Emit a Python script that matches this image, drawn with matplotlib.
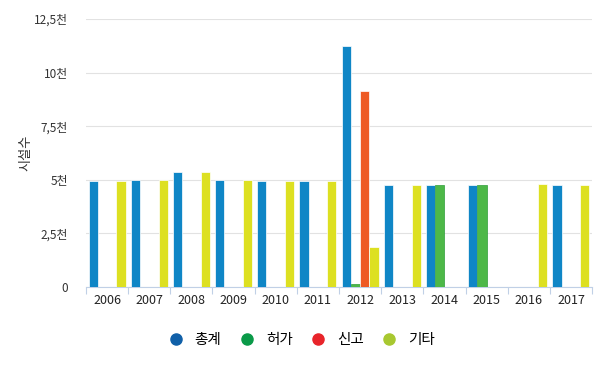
import matplotlib.pyplot as plt
import numpy as np
from matplotlib.lines import Line2D

plt.rcParams['font.family'] = ['Noto Sans CJK KR', 'DejaVu Sans']

years = ['2006', '2007', '2008', '2009', '2010', '2011', '2012', '2013', '2014', '2015', '2016', '2017']
total = [4.95, 5.0, 5.37, 5.0, 4.95, 4.95, 11.24, 4.76, 4.76, 4.76, 0, 4.76]
permit = [0, 0, 0, 0, 0, 0, 0.15, 0, 4.76, 4.76, 0, 0]
report = [0, 0, 0, 0, 0, 0, 9.14, 0, 0, 0, 0, 0]
other = [4.95, 5.0, 5.37, 5.0, 4.95, 4.95, 1.87, 4.76, 0, 0, 4.8, 4.76]

series_names = ['총계', '허가', '신고', '기타']
bar_colors = ['#0F86C6', '#4DB848', '#EE5A24', '#DDE021']
edge_colors = ['white', '#2E9E3A', 'white', 'white']
legend_colors = ['#1060A8', '#0A9A48', '#E8242A', '#A8C830']
yticks = [0, 2.5, 5, 7.5, 10, 12.5]
ytick_labels = ['0', '2,5천', '5천', '7,5천', '10천', '12,5천']

fig = plt.figure(figsize=(6, 3.68), dpi=100)
ax = fig.add_axes([0.1433, 0.2201, 0.8434, 0.7283])

x = np.arange(len(years))
w = 0.22
offsets = [-0.33, -0.11, 0.11, 0.33]
for vals, off, c, ec in zip([total, permit, report, other], offsets, bar_colors, edge_colors):
    ax.bar(x + off, vals, width=w, color=c, edgecolor=ec, linewidth=0.5, zorder=3)

ax.set_xlim(-0.5, len(years) - 0.5)
ax.set_ylim(0, 12.5)
ax.set_yticks(yticks)
ax.set_yticklabels(ytick_labels, fontsize=8.5, color='#333333')
ax.tick_params(axis='y', length=0, pad=13)
ax.grid(axis='y', color='#e2e2e2', linewidth=0.8, zorder=0)

# category ticks at boundaries, labels centered
ax.set_xticks(np.arange(len(years) + 1) - 0.5)
ax.set_xticklabels([])
ax.set_xticks(x, minor=True)
ax.set_xticklabels(years, minor=True, fontsize=9, color='#222222')
ax.tick_params(axis='x', which='major', length=5, color='#c0d0e6', direction='out')
ax.tick_params(axis='x', which='minor', length=0, pad=5)

for s in ['top', 'right', 'left']:
    ax.spines[s].set_visible(False)
ax.spines['bottom'].set_color('#c0d0e6')

ax.set_ylabel('시설수', fontsize=9.5, color='#333333', labelpad=1)

handles = [Line2D([], [], marker='o', linestyle='', markersize=8, color=c) for c in legend_colors]
fig.legend(handles, series_names, loc='center', bbox_to_anchor=(0.497, 0.075), ncol=4,
           frameon=False, fontsize=10.5, handletextpad=0.3, columnspacing=0.75)

fig.savefig('out.png', dpi=100)
